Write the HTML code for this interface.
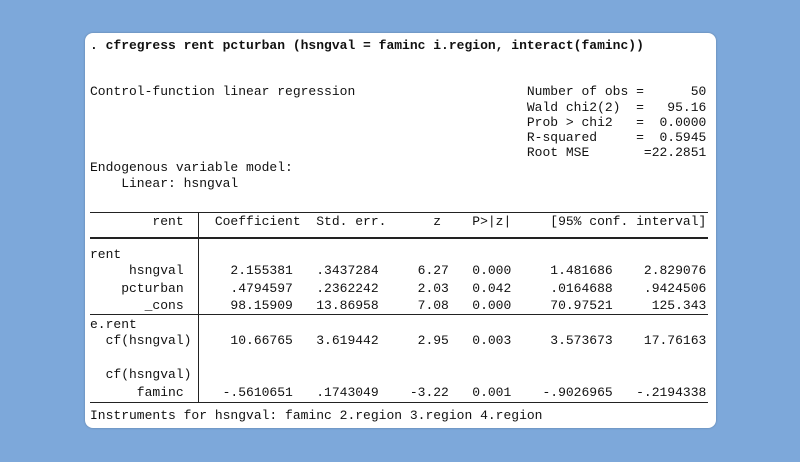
<!DOCTYPE html>
<html><head><meta charset="utf-8"><style>
html,body{margin:0;padding:0;}
body{width:800px;height:462px;background:#7da8da;position:relative;overflow:hidden;}
.panel{position:absolute;left:85px;top:33px;width:631px;height:395px;background:#fff;border-radius:8px;box-shadow:0 0 2px rgba(0,0,0,0.25);}
.l{position:absolute;left:90px;font-family:"Liberation Mono",monospace;font-size:13px;line-height:16px;height:16px;white-space:pre;color:#111;}
.h{position:absolute;left:90px;width:618px;height:1px;background:#222;}
.v{position:absolute;left:198px;width:1px;background:#222;top:212px;height:190px;}
</style></head><body>
<div class="panel"></div>
<div class="l" style="top:38px;font-weight:bold">. cfregress rent pcturban (hsngval = faminc i.region, interact(faminc))</div>
<div class="l" style="top:84px">Control-function linear regression                      Number of obs =      50</div>
<div class="l" style="top:100px">                                                        Wald chi2(2)  =   95.16</div>
<div class="l" style="top:115px">                                                        Prob &gt; chi2   =  0.0000</div>
<div class="l" style="top:130px">                                                        R-squared     =  0.5945</div>
<div class="l" style="top:145px">                                                        Root MSE       =22.2851</div>
<div class="l" style="top:160px">Endogenous variable model:</div>
<div class="l" style="top:176px">    Linear: hsngval</div>
<div class="h" style="top:212px"></div>
<div class="l" style="top:214px">        rent    Coefficient  Std. err.      z    P&gt;|z|     [95% conf. interval]</div>
<div class="h" style="top:237px;height:2px"></div>
<div class="l" style="top:247px">rent</div>
<div class="l" style="top:263px">     hsngval      2.155381   .3437284     6.27   0.000     1.481686    2.829076</div>
<div class="l" style="top:281px">    pcturban      .4794597   .2362242     2.03   0.042     .0164688    .9424506</div>
<div class="l" style="top:298px">       _cons      98.15909   13.86958     7.08   0.000     70.97521     125.343</div>
<div class="h" style="top:314px"></div>
<div class="l" style="top:317px">e.rent</div>
<div class="l" style="top:333px">  cf(hsngval)     10.66765   3.619442     2.95   0.003     3.573673    17.76163</div>
<div class="l" style="top:367px">  cf(hsngval)</div>
<div class="l" style="top:385px">      faminc     -.5610651   .1743049    -3.22   0.001    -.9026965   -.2194338</div>
<div class="h" style="top:402px"></div>
<div class="v"></div>
<div class="l" style="top:408px">Instruments for hsngval: faminc 2.region 3.region 4.region</div>
</body></html>
